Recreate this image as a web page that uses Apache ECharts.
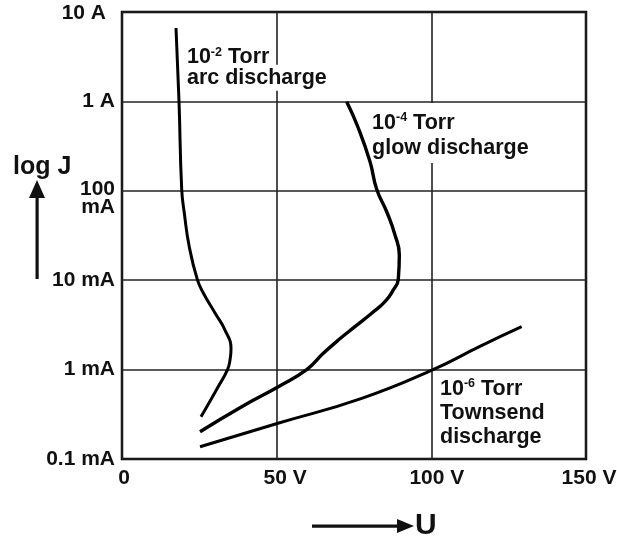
<!DOCTYPE html>
<html>
<head>
<meta charset="utf-8">
<script src="https://cdn.jsdelivr.net/npm/echarts@6/dist/echarts.min.js"></script>
<style>
html,body{margin:0;padding:0;background:#fff;}
#chart{width:617px;height:541px;}
</style>
</head>
<body>
<div id="chart"></div>
<script>
// ---- data (voltage in V, current density in A) ----
const arcV  = [17.46, 18.43, 19.30, 20.14, 21.76, 24.34, 26.28, 30.07, 33.30, 35.24, 34.91, 34.11, 31.04, 27.38, 25.54];
const arcJ  = [6.62, 1.0, 0.104, 0.0565, 0.0235, 0.0102, 0.00719, 0.00430, 0.00277, 0.00170, 0.00128, 0.0010, 0.000638, 0.000382, 0.000297];
const glowV = [72.64, 76.39, 80.17, 82.34, 85.57, 88.26, 89.65, 89.32, 87.71, 85.02, 80.72, 75.3, 69.93, 65.08, 59.7, 50.53, 38.70, 25.22];
const glowJ = [0.99, 0.504, 0.212, 0.104, 0.0583, 0.0321, 0.0191, 0.0102, 0.00777, 0.00575, 0.00427, 0.00302, 0.00214, 0.00152, 0.0010, 0.000644, 0.000385, 0.000202];
const townV = [25.22, 50.43, 77.49, 100.54, 115.7, 129.2];
const townJ = [0.000137, 0.000251, 0.000477, 0.0010, 0.00182, 0.00302];
const xTickValues = [0, 50, 100, 150];
const xTickText = ['0', '50 V', '100 V', '150 V'];
const yTickText = ['0.1 mA', '1 mA', '10 mA', '100\nmA', '1 A', '10 A']; // 1e-4 ... 1e1
const arcLabel  = ['10', '-2', ' Torr', 'arc discharge'];
const glowLabel = ['10', '-4', ' Torr', 'glow discharge'];
const townLabel = ['10', '-6', ' Torr', 'Townsend', 'discharge'];

const zip = (a, b) => a.map((v, i) => [v, b[i]]);
const FONT = '"Liberation Sans", Arial, sans-serif';
const LFS = 21.5; // annotation font size
const TFS = 21;   // tick font size
const xLabelPad = [4, 17, 11, 6]; // left padding nudging each x tick label

function rich(lh) {
  return {
    n: {fontFamily: FONT, fontSize: LFS, fontWeight: 'bold', color: '#111', lineHeight: lh},
    s: {fontFamily: FONT, fontSize: 12.5, fontWeight: 'bold', color: '#111', lineHeight: 12, verticalAlign: 'top'},
    w: {fontFamily: FONT, fontSize: LFS, fontWeight: 'bold', color: '#111', lineHeight: 20,
        backgroundColor: '#fff', padding: [2, 3, 2, 0]}
  };
}

function labelPoint(coord, text, richStyle, extra) {
  return {
    symbol: 'circle', symbolSize: 0, silent: true,
    data: [{coord: coord}],
    label: Object.assign({
      show: true, position: [0, 0], align: 'left', verticalAlign: 'top',
      formatter: () => text, rich: richStyle
    }, extra || {})
  };
}

const lineStyle = (w) => ({color: '#000', width: w});
const tickStyle = {fontFamily: FONT, fontSize: TFS, fontWeight: 'bold', color: '#111'};
const xRich = {};
xLabelPad.forEach((p, i) => { xRich['x' + i] = Object.assign({padding: [0, 0, 0, p]}, tickStyle); });

const chart = echarts.init(document.getElementById('chart'), null, {renderer: 'canvas'});
chart.setOption({
  backgroundColor: '#fff',
  animation: false,
  grid: {left: 122, right: 31, top: 12, bottom: 82, containLabel: false, outerBoundsMode: 'none',
         show: true, borderColor: '#000', borderWidth: 2.5, backgroundColor: 'transparent'},
  xAxis: {
    type: 'value', min: 0, max: 150, interval: 50,
    axisLine: {show: false}, axisTick: {show: false},
    splitLine: {show: true, lineStyle: {color: '#222', width: 1.6}},
    axisLabel: {
      margin: 9, color: '#111', fontFamily: FONT, fontSize: TFS, fontWeight: 'bold',
      formatter: v => {
        const i = xTickValues.indexOf(v);
        return i >= 0 ? '{x' + i + '|' + xTickText[i] + '}' : '';
      },
      rich: xRich
    }
  },
  yAxis: {
    type: 'log', logBase: 10, min: 0.0001, max: 10,
    axisLine: {show: false}, axisTick: {show: false},
    splitLine: {show: true, lineStyle: {color: '#222', width: 1.6}},
    axisLabel: {
      margin: 7, color: '#111', fontFamily: FONT, fontSize: TFS, fontWeight: 'bold',
      formatter: v => {
        const e = Math.round(Math.log10(v));
        const t = yTickText[e + 4];
        if (t === undefined) return '';
        if (t.indexOf('\n') >= 0) {
          const p = t.split('\n');
          return '{e| }\n{a|' + p[0] + '}\n{a|' + p[1] + '}';
        }
        if (e === 1) return '{c|' + t + '}';
        return '{d|' + t + '}';
      },
      rich: {
        e: Object.assign({}, tickStyle, {fontSize: 10, lineHeight: 14}),
        a: Object.assign({}, tickStyle, {lineHeight: 18}),
        c: Object.assign({padding: [3, 9, 0, 0]}, tickStyle),
        d: Object.assign({}, tickStyle)
      }
    }
  },
  series: [
    {
      name: 'arc', type: 'line', data: zip(arcV, arcJ), smooth: 0.5, symbol: 'none',
      lineStyle: lineStyle(3), z: 3,
      markPoint: labelPoint([21.0, 4.2],
        '{n|' + arcLabel[0] + '}{s|' + arcLabel[1] + '}{n|' + arcLabel[2] + '}\n{w|' + arcLabel[3] + '}',
        rich(22))
    },
    {
      name: 'glow', type: 'line', data: zip(glowV, glowJ), smooth: 0.5, symbol: 'none',
      lineStyle: lineStyle(3.4), z: 3,
      markPoint: labelPoint([80.85, 0.96],
        '{n|' + glowLabel[0] + '}{s|' + glowLabel[1] + '}{n|' + glowLabel[2] + '}\n{n|' + glowLabel[3] + '}',
        rich(25), {backgroundColor: '#fff', padding: [8, 4, 2, 0]})
    },
    {
      name: 'townsend', type: 'line', data: zip(townV, townJ), smooth: 0.5, symbol: 'none',
      lineStyle: lineStyle(3), z: 3,
      markPoint: labelPoint([102.8, 0.00082],
        '{n|' + townLabel[0] + '}{s|' + townLabel[1] + '}{n|' + townLabel[2] + '}\n{n|' + townLabel[3] + '}\n{n|' + townLabel[4] + '}',
        rich(24))
    }
  ],
  graphic: [
    {type: 'text', left: 13, top: 155, style: {text: 'log J', fontFamily: FONT, fontSize: 25, fontWeight: 'bold', fill: '#111'}},
    {type: 'rect', shape: {x: 35.5, y: 194, width: 3.2, height: 85}, style: {fill: '#111'}},
    {type: 'polygon', shape: {points: [[37, 180], [29, 198], [45, 198]]}, style: {fill: '#111'}},
    {type: 'rect', shape: {x: 312, y: 524.5, width: 88, height: 3.2}, style: {fill: '#111'}},
    {type: 'polygon', shape: {points: [[414, 526], [397, 519], [397, 533]]}, style: {fill: '#111'}},
    {type: 'text', left: 415, top: 511, style: {text: 'U', fontFamily: FONT, fontSize: 30, fontWeight: 'bold', fill: '#111'}}
  ]
});
</script>
</body>
</html>
